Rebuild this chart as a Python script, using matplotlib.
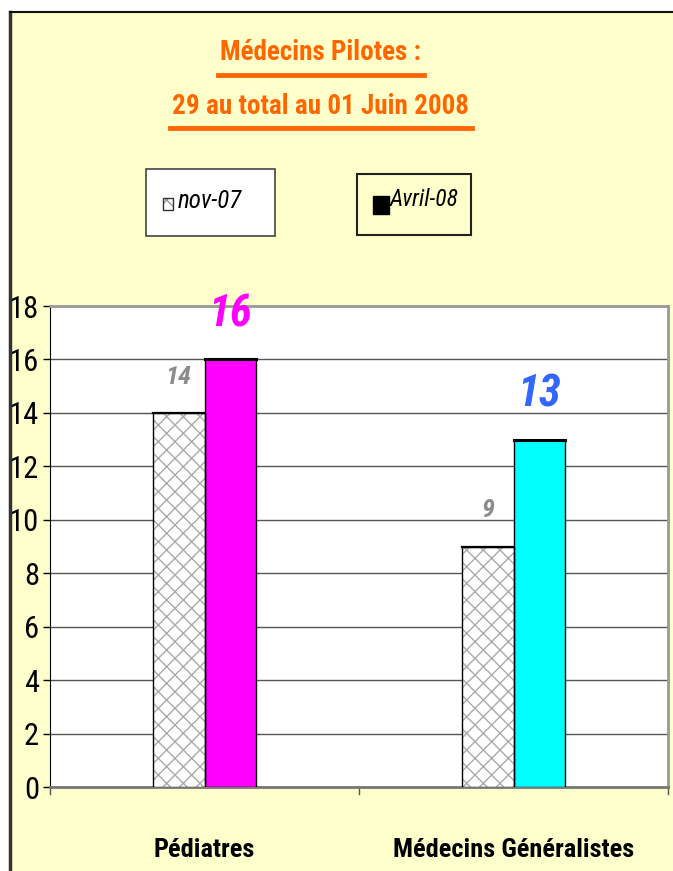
import matplotlib
matplotlib.use('Agg')
import matplotlib.pyplot as plt
from matplotlib.patches import Rectangle
from matplotlib.lines import Line2D
import numpy as np

plt.rcParams['font.family'] = ['Roboto Condensed', 'Archivo Narrow', 'DejaVu Sans']
plt.rcParams['hatch.linewidth'] = 1.0

categories = ['Pédiatres', 'Médecins Généralistes']
nov07 = [14, 9]
avril08 = [16, 13]
avril_colors = ['#FF00FF', '#00FFFF']
label_colors = ['#FF00FF', '#3366FF']
series_names = ['nov-07', 'Avril-08']
title_lines = ['Médecins Pilotes :', '29 au total au 01 Juin 2008']

W, H = 673, 871
fig = plt.figure(figsize=(W / 100, H / 100), dpi=100)
fig.patch.set_facecolor('white')

def fx(px):
    return px / W

def fy(py):
    return 1 - py / H

# yellow background panel, dark border left and top
fig.add_artist(Rectangle((fx(10), 0), 1 - fx(10), fy(12), transform=fig.transFigure,
                         facecolor='#FFFFCC', edgecolor='none', zorder=0))
fig.add_artist(Line2D([fx(9.5), fx(9.5)], [0, fy(12)], transform=fig.transFigure, color='#333333', lw=2.5))
fig.add_artist(Line2D([fx(9.5), 1], [fy(12), fy(12)], transform=fig.transFigure, color='#111111', lw=1.5))

ax = fig.add_axes([fx(50), fy(787), fx(668) - fx(50), fy(306) - fy(787)])
ax.set_facecolor('white')

x = np.arange(len(categories))
w = 0.168
# hatch takes the edge colour, so draw the outline on top separately
ax.bar(x - w / 2, nov07, w, facecolor='white', edgecolor='#AAAAAA', hatch='xx', lw=0, zorder=3)
ax.bar(x - w / 2, nov07, w, facecolor='none', edgecolor='black', lw=1.0, zorder=4)
ax.bar(x + w / 2, avril08, w, color=avril_colors, edgecolor='black', lw=1.0, zorder=3)
for i in range(len(categories)):
    ax.plot([x[i] + w * 0.01, x[i] + w * 0.99], [avril08[i], avril08[i]], color='black', lw=2.2, zorder=5)
    ax.plot([x[i] - w * 0.99, x[i] - w * 0.01], [nov07[i], nov07[i]], color='black', lw=1.6, zorder=5)

# value labels
for i in range(len(categories)):
    ax.text(x[i] - w * 0.5, nov07[i] + 0.9, str(nov07[i]), ha='center', va='bottom',
            fontsize=19, fontweight='bold', style='italic', color='#8C8C8C')
    ax.text(x[i] + w * 0.5, avril08[i] + 0.9, str(avril08[i]), ha='center', va='bottom',
            fontsize=32, fontweight='bold', style='italic', color=label_colors[i])

ax.set_xlim(-0.5, len(categories) - 0.5)
ax.set_ylim(0, 18)
ax.set_yticks(range(0, 19, 2))
ax.yaxis.grid(True, color='#555555', lw=1.0)
ax.set_axisbelow(True)
ax.set_xticks(x)
ax.set_xticklabels(categories, fontsize=19, fontweight='bold')
ax.tick_params(axis='x', length=0, pad=37)
ax.tick_params(axis='y', length=5, width=1, direction='out', labelsize=22, pad=3)
for b in [-0.5, 0.5, 1.5]:
    ax.plot([b, b], [0, -0.25], color='#555555', lw=1, clip_on=False)
ax.spines['left'].set_color('black')
ax.spines['bottom'].set_color('#777777')
ax.spines['bottom'].set_linewidth(2)
for s in ['top', 'right']:
    ax.spines[s].set_color('#999999')
    ax.spines[s].set_linewidth(2)

# title with underlines
t1 = fig.text(fx(321), fy(53), title_lines[0], ha='center', va='center', fontsize=19.5,
              fontweight='bold', color='#FF6600')
t2 = fig.text(fx(321), fy(107), title_lines[1], ha='center', va='center', fontsize=19.5,
              fontweight='bold', color='#FF6600')
fig.canvas.draw()
r = fig.canvas.get_renderer()
for t, uy in [(t1, 75), (t2, 128)]:
    bb = t.get_window_extent(r)
    fig.add_artist(Line2D([bb.x0 / W - 0.003, bb.x1 / W + 0.003], [fy(uy), fy(uy)],
                          transform=fig.transFigure, color='#FF6600', lw=3.5))

# legend boxes
fig.add_artist(Rectangle((fx(146), fy(236)), fx(275) - fx(146), fy(169) - fy(236), transform=fig.transFigure,
                         facecolor='white', edgecolor='#444444', lw=1.2))
fig.add_artist(Rectangle((fx(357), fy(235)), fx(471) - fx(357), fy(174) - fy(235), transform=fig.transFigure,
                         facecolor='#FFFFCC', edgecolor='#222222', lw=1.5))
fig.add_artist(Rectangle((fx(163), fy(210)), fx(10), fx(12) * W / H, transform=fig.transFigure,
                         facecolor='white', edgecolor='#999999', hatch='x', lw=0))
fig.add_artist(Rectangle((fx(163), fy(210)), fx(10), fx(12) * W / H, transform=fig.transFigure,
                         facecolor='none', edgecolor='#333333', lw=1))
fig.add_artist(Rectangle((fx(373), fy(214)), fx(16), fx(18) * W / H, transform=fig.transFigure,
                         facecolor='black', edgecolor='black', lw=1))
fig.text(fx(178), fy(201), series_names[0], ha='left', va='center', fontsize=18, style='italic')
fig.text(fx(390), fy(199), series_names[1], ha='left', va='center', fontsize=17, style='italic')

fig.savefig('out.png', dpi=100, facecolor=fig.get_facecolor())
